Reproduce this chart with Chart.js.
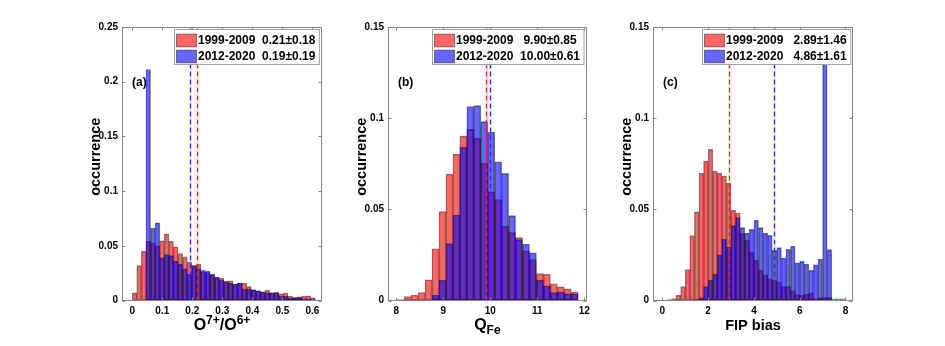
<!DOCTYPE html>
<html>
<head>
<meta charset="utf-8">
<script src="https://cdn.jsdelivr.net/npm/chart.js@4.4.1/dist/chart.umd.min.js"></script>
<style>
html, body { margin: 0; padding: 0; background: #fff; }
#wrap { position: relative; width: 945px; height: 346px; overflow: hidden; }
.panel { position: absolute; top: 0; height: 346px; }
</style>
</head>
<body>
<div id="wrap">
    <div class="panel" style="left:0"><canvas id="chartA" width="330" height="346"></canvas></div>
    <div class="panel" style="left:330px"><canvas id="chartB" width="265" height="346"></canvas></div>
    <div class="panel" style="left:595px"><canvas id="chartC" width="350" height="346"></canvas></div>
</div>
<script>
// series names
const seriesLabels = ['1999-2009', '2012-2020'];

// (a) O7+/O6+ histogram, 40 bins starting at 0
const oxBinStart = 0;
const oxBinWidth = 0.01525;
const oxRed = [0.007, 0.032, 0.045, 0.054, 0.0525, 0.050, 0.0545, 0.061, 0.054, 0.049,
    0.043, 0.040, 0.035, 0.032, 0.033, 0.026, 0.0255, 0.0235, 0.0215, 0.0204,
    0.0177, 0.018, 0.015, 0.016, 0.016, 0.0128, 0.0098, 0.0088, 0.008, 0.0094,
    0.007, 0.0076, 0.0061, 0.0067, 0.004, 0.0027, 0.0034, 0.0037, 0.0043, null];
const oxBlue = [null, null, null, 0.211, 0.066, 0.071, 0.039, 0.042, 0.041, 0.036,
    0.033, 0.029, 0.024, 0.032, 0.029, 0.0275, 0.027, 0.024, 0.021, 0.019,
    0.0168, 0.0158, 0.015, 0.016, 0.0104, 0.0104, 0.0098, 0.0088, 0.008, 0.007,
    0.007, 0.007, 0.0037, 0.0037, 0.0021, 0.0027, 0.0027, 0.0015, 0.0015, 0.0024];
const oxMeans = [0.215, 0.192];
const oxLegend = ['1999-2009  0.21\u00b10.18', '2012-2020  0.19\u00b10.19'];
const oxTicksX = [0, 0.1, 0.2, 0.3, 0.4, 0.5, 0.6];
const oxTicksY = [0, 0.05, 0.1, 0.15, 0.2, 0.25];

// (b) Q_Fe histogram, 26 bins
const qBinStart = 8.02;
const qBinWidth = 0.148;
const qRed = [0.0005, 0.0022, 0.0029, 0.0044, 0.0113, 0.0284, 0.0488, 0.0693, 0.0803, 0.0902,
    0.0939, 0.0889, 0.0752, 0.0596, 0.0554, 0.0407, 0.0372, 0.0345, 0.0273, 0.0224,
    0.0147, 0.0143, 0.0092, 0.0075, 0.0064, 0.0046];
const qBlue = [null, null, null, null, null, 0.003, 0.011, 0.0312, 0.0469, 0.084,
    0.1063, 0.1069, 0.0981, 0.0922, 0.0761, 0.0697, 0.0466, 0.0334, 0.0308, 0.0262,
    0.011, 0.0081, 0.0044, 0.0046, 0.0037, 0.0037];
const qMeans = [9.90, 10.00];
const qLegend = ['1999-2009   9.90\u00b10.85', '2012-2020  10.00\u00b10.61'];
const qTicksX = [8, 9, 10, 11, 12];
const qTicksY = [0, 0.05, 0.1, 0.15];

// (c) FIP bias histogram, 40 bins of 0.2
const fipBinStart = 0;
const fipBinWidth = 0.2;
const fipRed = [0.0002, 0.0005, 0.001, 0.0028, 0.0077, 0.0169, 0.0356, 0.0486, 0.0697, 0.0765,
    0.0829, 0.071, 0.0697, 0.0682, 0.0642, 0.0495, 0.048, 0.0367, 0.033, 0.0266,
    0.022, 0.0165, 0.0141, 0.0119, 0.011, 0.0101, 0.0077, 0.0077, 0.0055, 0.0033,
    0.0028, 0.0035, 0.0039, 0.0009, 0.0016, 0.0018, 0.0016, 0.0009, 0.0009, 0.0009];
const fipBlue = [null, null, null, null, null, null, null, 0.0005, 0.0015, 0.0077,
    0.011, 0.0143, 0.0251, 0.0336, 0.0293, 0.0411, 0.0455, 0.040, 0.037, 0.039,
    0.044, 0.040, 0.037, 0.0357, 0.0275, 0.029, 0.0233, 0.028, 0.0297, 0.0207,
    0.0215, 0.020, 0.0165, 0.0196, 0.0227, 0.1298, 0.0279, null, null, null];
const fipMeans = [2.89, 4.86];
const fipLegend = ['1999-2009   2.89\u00b11.46', '2012-2020   4.86\u00b11.61'];
const fipTicksX = [0, 2, 4, 6, 8];
const fipTicksY = [0, 0.05, 0.1, 0.15];

const FONT = '"Liberation Sans", Arial, Helvetica, sans-serif';
const fills = ['rgba(255,0,0,0.6)', 'rgba(0,0,255,0.6)'];
const lineColors = ['#ff1a1a', '#2a2aff'];
const frameColor = '#858585';

function centers(start, width, n) {
    const out = [];
    for (let i = 0; i < n; i++) out.push(start + width * (i + 0.5));
    return out;
}

function histDataset(label, values, xs, fill, order) {
    return {
        label: label,
        data: values.map((v, i) => ({ x: xs[i], y: v })),
        backgroundColor: fill,
        borderColor: 'rgba(0,0,0,0.5)',
        borderWidth: 0.8,
        borderSkipped: false,
        barPercentage: 1,
        categoryPercentage: 1,
        grouped: false,
        order: order
    };
}

function fmt(v) {
    return String(Math.round(v * 1000) / 1000);
}

// draws mean lines, box with inward ticks, legend and labels
const panelPlugin = {
    id: 'panel',
    afterDatasetsDraw(chart, args, o) {
        const { ctx, chartArea: a } = chart;
        const x = chart.scales.x, y = chart.scales.y;
        ctx.save();

        o.means.forEach((m, i) => {
            const px = Math.round(x.getPixelForValue(m)) + 0.5;
            ctx.strokeStyle = lineColors[i];
            ctx.lineWidth = 1.4;
            ctx.setLineDash([5, 3]);
            ctx.beginPath();
            ctx.moveTo(px, a.bottom);
            ctx.lineTo(px, a.top);
            ctx.stroke();
        });
        ctx.setLineDash([]);

        // box
        ctx.strokeStyle = frameColor;
        ctx.lineWidth = 1;
        const L = Math.round(a.left) + 0.5, R = Math.round(a.right) - 0.5;
        const T = Math.round(a.top) + 0.5, B = Math.round(a.bottom) - 0.5;
        ctx.strokeRect(L, T, R - L, B - T);
        ctx.beginPath();
        x.ticks.forEach(t => {
            const px = Math.round(x.getPixelForValue(t.value)) + 0.5;
            ctx.moveTo(px, B); ctx.lineTo(px, B - 3);
            ctx.moveTo(px, T); ctx.lineTo(px, T + 3);
        });
        y.ticks.forEach(t => {
            const py = Math.round(y.getPixelForValue(t.value)) + 0.5;
            ctx.moveTo(L, py); ctx.lineTo(L + 3, py);
            ctx.moveTo(R, py); ctx.lineTo(R - 3, py);
        });
        ctx.stroke();

        // legend
        ctx.font = 'bold 12px ' + FONT;
        const tw = Math.max(...o.legend.map(r => ctx.measureText(r).width));
        const bw = 2 + 20 + 1.5 + tw + 4;
        const bh = 35;
        const bx = Math.round(a.right - 3 - bw) + 0.5;
        const by = Math.round(a.top + 2) + 0.5;
        ctx.fillStyle = '#fff';
        ctx.fillRect(bx, by, bw, bh);
        ctx.strokeStyle = '#a0a0a0';
        ctx.strokeRect(bx, by, bw, bh);
        o.legend.forEach((r, i) => {
            const cy = by + 11 + i * 16;
            ctx.fillStyle = fills[i];
            ctx.fillRect(bx + 2, cy - 6.3, 20, 12.6);
            ctx.strokeStyle = 'rgba(0,0,0,0.45)';
            ctx.strokeRect(bx + 2, cy - 6.3, 20, 12.6);
            ctx.fillStyle = '#000';
            ctx.textBaseline = 'middle';
            ctx.textAlign = 'left';
            ctx.fillText(r, bx + 23.5, cy + 0.5);
        });

        // panel letter
        ctx.font = 'bold 12px ' + FONT;
        ctx.fillStyle = '#000';
        ctx.textBaseline = 'middle';
        ctx.fillText(o.letter, a.left + 10, 83);

        // y title
        ctx.save();
        ctx.translate(a.left - 26, (a.top + a.bottom) / 2 - 7);
        ctx.rotate(-Math.PI / 2);
        ctx.font = 'bold 14.5px ' + FONT;
        ctx.textAlign = 'center';
        ctx.fillText('occurrence', 0, 0);
        ctx.restore();

        // x title with super/subscripts
        ctx.textBaseline = 'alphabetic';
        ctx.textAlign = 'left';
        let total = 0;
        o.xTitle.forEach(p => {
            ctx.font = 'bold ' + p.s + 'px ' + FONT;
            total += ctx.measureText(p.t).width;
        });
        let cx = (a.left + a.right) / 2 - total / 2;
        const base = a.bottom + 29;
        o.xTitle.forEach(p => {
            ctx.font = 'bold ' + p.s + 'px ' + FONT;
            ctx.fillText(p.t, cx, base + (p.dy || 0));
            cx += ctx.measureText(p.t).width;
        });

        ctx.restore();
    }
};

function makePanel(id, cfg) {
    const xs = centers(cfg.start, cfg.width, cfg.red.length);
    const tickFont = { family: FONT, size: 10, weight: 'bold' };
    return new Chart(document.getElementById(id), {
        type: 'bar',
        data: {
            datasets: [
                histDataset(seriesLabels[0], cfg.red, xs, fills[0], 2),
                histDataset(seriesLabels[1], cfg.blue, xs, fills[1], 1)
            ]
        },
        options: {
            responsive: false,
            animation: false,
            events: [],
            layout: { padding: { left: 0, right: cfg.padRight, top: 27, bottom: 0 } },
            plugins: {
                legend: { display: false },
                tooltip: { enabled: false },
                panel: { means: cfg.means, legend: cfg.legend, letter: cfg.letter, xTitle: cfg.xTitle }
            },
            scales: {
                x: {
                    type: 'linear',
                    min: cfg.xMin,
                    max: cfg.xMax,
                    offset: false,
                    afterBuildTicks: s => { s.ticks = cfg.ticksX.map(v => ({ value: v })); },
                    afterFit: s => { s.height = 45.5; },
                    grid: { display: false, drawTicks: false },
                    border: { display: false },
                    ticks: { font: tickFont, color: '#000', padding: 5, maxRotation: 0, autoSkip: false, callback: fmt }
                },
                y: {
                    min: 0,
                    max: cfg.yMax,
                    afterBuildTicks: s => { s.ticks = cfg.ticksY.map(v => ({ value: v })); },
                    afterFit: s => { s.width = cfg.yWidth; },
                    grid: { display: false, drawTicks: false },
                    border: { display: false },
                    ticks: { font: tickFont, color: '#000', padding: 4, autoSkip: false, callback: fmt }
                }
            }
        },
        plugins: [panelPlugin]
    });
}

makePanel('chartA', {
    start: oxBinStart, width: oxBinWidth, red: oxRed, blue: oxBlue,
    means: oxMeans, legend: oxLegend, letter: '(a)',
    ticksX: oxTicksX, ticksY: oxTicksY, xMin: -0.034, xMax: 0.632, yMax: 0.25,
    yWidth: 122, padRight: 8,
    xTitle: [{ t: 'O', s: 16 }, { t: '7+', s: 12, dy: -6 }, { t: '/O', s: 16 }, { t: '6+', s: 12, dy: -6 }]
});

makePanel('chartB', {
    start: qBinStart, width: qBinWidth, red: qRed, blue: qBlue,
    means: qMeans, legend: qLegend, letter: '(b)',
    ticksX: qTicksX, ticksY: qTicksY, xMin: 7.823, xMax: 12.05, yMax: 0.15,
    yWidth: 58, padRight: 6,
    xTitle: [{ t: 'Q', s: 16 }, { t: 'Fe', s: 12, dy: 4 }]
});

makePanel('chartC', {
    start: fipBinStart, width: fipBinWidth, red: fipRed, blue: fipBlue,
    means: fipMeans, legend: fipLegend, letter: '(c)',
    ticksX: fipTicksX, ticksY: fipTicksY, xMin: -0.41, xMax: 8.33, yMax: 0.15,
    yWidth: 58, padRight: 92,
    xTitle: [{ t: 'FIP bias', s: 14.5 }]
});
</script>
</body>
</html>
